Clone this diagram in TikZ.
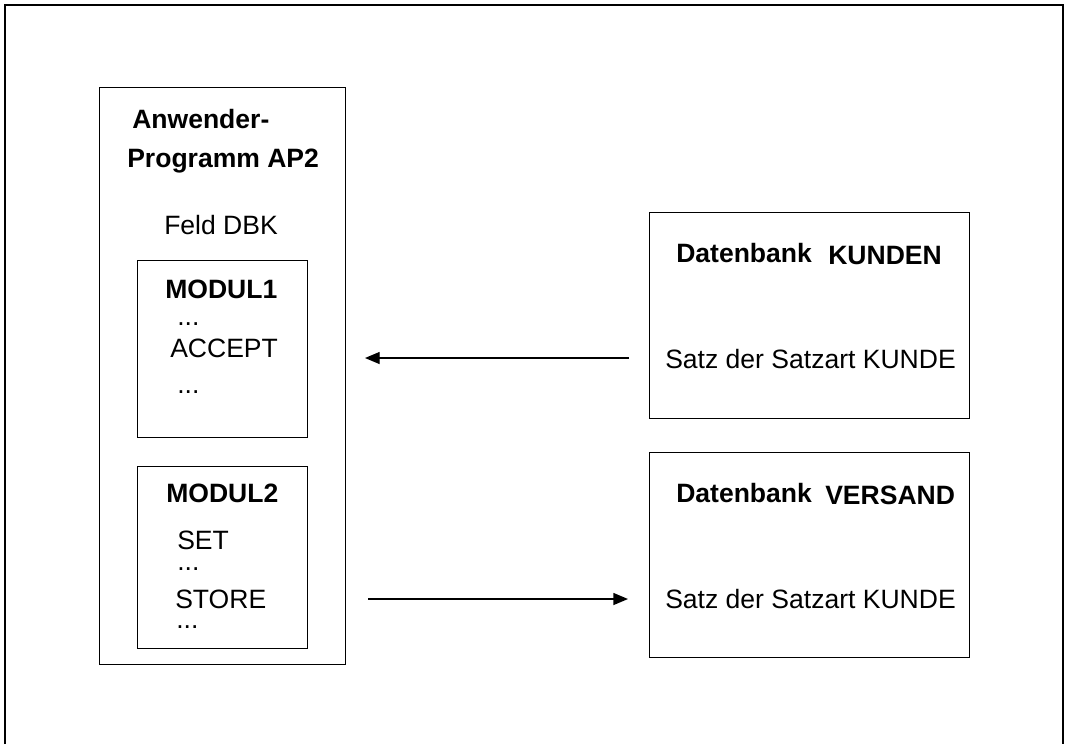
\documentclass[tikz,border=0pt]{standalone}
\usepackage{fontspec}
\setmainfont{Liberation Sans}
\usetikzlibrary{arrows.meta}
\begin{document}
\begin{tikzpicture}[x=0.75pt,y=-0.75pt,
  frame/.style={line width=1pt},
  box/.style={draw,line width=1pt,inner sep=0pt,anchor=north west,
    minimum width=#1},
  boxh/.style={minimum height=#1},
  txt/.style={anchor=base west,inner sep=0pt,font=\fontsize{19.9}{24}\selectfont},
  btxt/.style={txt,font=\fontsize{19.9}{24}\selectfont\bfseries},
  arr/.style={line width=1pt,-{Triangle[length=11pt,width=9pt]}}]
\useasboundingbox (0,0) rectangle (1066,744);
% outer frame (open at bottom)
\draw[frame] (5,744) -- (5,5) -- (1063,5) -- (1063,744);
% boxes
\node[box=184.5pt,boxh=432.75pt] (prog) at (99,87) {};
\node[box=127.5pt,boxh=132.75pt] (m1) at (137,260) {};
\node[box=127.5pt,boxh=136.5pt] (m2) at (137,466) {};
\node[box=240pt,boxh=154.5pt] (kunden) at (649,212) {};
\node[box=240pt,boxh=153.75pt] (versand) at (649,452) {};
% program texts
\node[btxt] (t1) at (132,128) {Anwender-};
\node[btxt] (t2) at (127,167) {Programm AP2};
\node[txt] (t3) at (164,234) {Feld DBK};
\node[btxt] (t4) at (165,298) {MODUL1};
\node[txt] (t5) at (177,325) {...};
\node[txt] (t6) at (170,357) {ACCEPT};
\node[txt] (t7) at (177,393) {...};
\node[btxt] (t8) at (166,502) {MODUL2};
\node[txt] (t9) at (177,549) {SET};
\node[txt] (t10) at (177,570) {...};
\node[txt] (t11) at (175,608) {STORE};
\node[txt] (t12) at (176,628) {...};
% database texts
\node[btxt] (k1) at (676,262) {Datenbank};
\node[btxt] (k2) at (828,264) {KUNDEN};
\node[txt] (k3) at (665,368) {Satz der Satzart KUNDE};
\node[btxt] (v1) at (676,502) {Datenbank};
\node[btxt] (v2) at (825,504) {VERSAND};
\node[txt] (v3) at (665,608) {Satz der Satzart KUNDE};
% arrows
\coordinate (a1s) at (629,358);
\coordinate (a1e) at (365,358);
\coordinate (a2s) at (368,599);
\coordinate (a2e) at (628,599);
\draw[arr] (a1s) -- (a1e);
\draw[arr] (a2s) -- (a2e);
\end{tikzpicture}
\end{document}
